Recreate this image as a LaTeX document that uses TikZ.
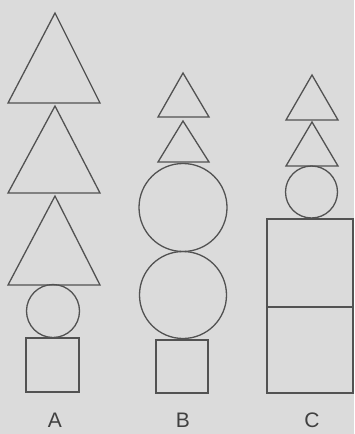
\documentclass[tikz,border=0pt]{standalone}
\usepackage{fontspec}
\setmainfont{Liberation Sans}
\begin{document}
\begin{tikzpicture}[x=1pt,y=-1pt,
  shp/.style={draw=black!68,line width=1.3pt},
  lbl/.style={text=black!75,font=\fontsize{21}{21}\selectfont,anchor=south,inner sep=0pt}]
\fill[black!14] (0,0) rectangle (354,434);
\useasboundingbox (0,0) rectangle (354,434);
% Column A
\draw[shp] (55,13) -- (100,103) -- (8,103) -- cycle;
\draw[shp] (55,106) -- (100,193) -- (8,193) -- cycle;
\draw[shp] (55,196) -- (100,285) -- (8,285) -- cycle;
\draw[shp] (53,311) circle (26.5);
\draw[shp] (26,338) rectangle (79,392);
\node[lbl] (A) at (55,428) {A};
% Column B
\draw[shp] (183,73) -- (209,117) -- (158,117) -- cycle;
\draw[shp] (183,121) -- (209,162) -- (158,162) -- cycle;
\draw[shp] (183,207.5) circle (44);
\draw[shp] (183,295) circle (43.5);
\draw[shp] (156,340) rectangle (208,393);
\node[lbl] (B) at (183,428) {B};
% Column C
\draw[shp] (312,75) -- (338,120) -- (286,120) -- cycle;
\draw[shp] (312,122) -- (338,166) -- (286,166) -- cycle;
\draw[shp] (311.5,192) circle (26);
\draw[shp] (267,219) rectangle (353,307);
\draw[shp] (267,307) rectangle (353,393);
\node[lbl] (C) at (312,428) {C};
\end{tikzpicture}
\end{document}
